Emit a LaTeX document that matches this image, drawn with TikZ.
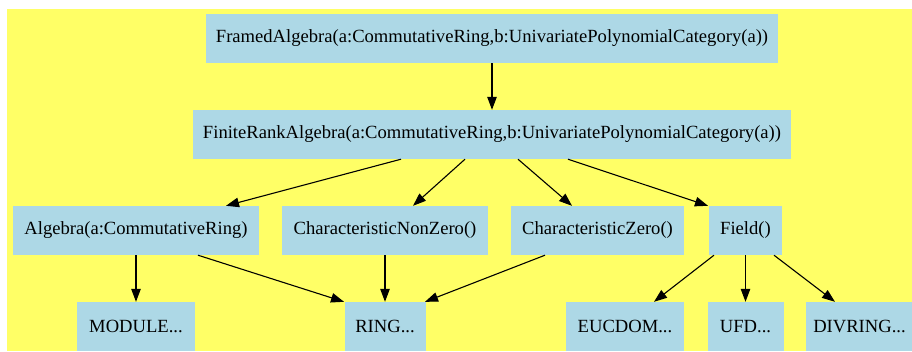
\documentclass[tikz,border=0pt]{standalone}
\usepackage{fontspec}
\setmainfont{Liberation Serif}
\usepackage{tikz}
\usetikzlibrary{arrows.meta}
\definecolor{graphbg}{HTML}{FFFF66}
\definecolor{catblue}{HTML}{ADD8E6}
\tikzset{
  % Category boxes
  catbox/.style={
    rectangle, fill=catblue, draw=none, text=black,
    minimum width=#1, minimum height=49pt, inner sep=0pt,
    font=\fontsize{18.6}{22}\selectfont, align=center,
  },
  catbox/.default={118pt},
  % Arrows
  catarrow/.style={-{Triangle[length=13pt, width=9.5pt]}, line width=1.1pt, black},
}

\begin{document}
\begin{tikzpicture}[x=1pt, y=-1pt]
  \useasboundingbox (0,0) rectangle (912,351);
  \fill[graphbg] (7,9) rectangle (912,351);

  % Top rows
  \node[catbox=572pt] (framed) at (492,38.5)
    {FramedAlgebra(a:CommutativeRing,b:UnivariatePolynomialCategory(a))};
  \node[catbox=598pt] (finite) at (492,134.5)
    {FiniteRankAlgebra(a:CommutativeRing,b:UnivariatePolynomialCategory(a))};

  % Middle row
  \node[catbox=246pt] (algebra) at (136,230.5) {Algebra(a:CommutativeRing)};
  \node[catbox=206pt] (cnonzero) at (385,230.5) {CharacteristicNonZero()};
  \node[catbox=173pt] (czero) at (597.5,230.5) {CharacteristicZero()};
  \node[catbox=73pt] (field) at (745.5,230.5) {Field()};

  % Bottom row
  \node[catbox=118pt] (module) at (136,326.5) {MODULE...};
  \node[catbox=81pt] (ring) at (385,326.5) {RING...};
  \node[catbox=118pt] (eucdom) at (625,326.5) {EUCDOM...};
  \node[catbox=76pt] (ufd) at (745.5,326.5) {UFD...};
  \node[catbox=107pt] (divring) at (859.5,326.5) {DIVRING...};

  % Arrows
  \draw[catarrow] (framed) -- (finite);
  \draw[catarrow] ([xshift=-91pt]finite.south) -- ([xshift=90pt]algebra.north);
  \draw[catarrow] ([xshift=-27pt]finite.south) -- ([xshift=28pt]cnonzero.north);
  \draw[catarrow] ([xshift=26pt]finite.south) -- ([xshift=-25.5pt]czero.north);
  \draw[catarrow] ([xshift=76pt]finite.south) -- ([xshift=-37.5pt]field.north);
  \draw[catarrow] (algebra) -- (module);
  \draw[catarrow] ([xshift=62pt]algebra.south) -- ([xshift=-41pt]ring.north);
  \draw[catarrow] (cnonzero) -- (ring);
  \draw[catarrow] ([xshift=-52.5pt]czero.south) -- ([xshift=40pt]ring.north);
  \draw[catarrow] ([xshift=-31.5pt]field.south) -- ([xshift=29pt]eucdom.north);
  \draw[catarrow] (field) -- (ufd);
  \draw[catarrow] ([xshift=28.5pt]field.south) -- ([xshift=-24.5pt]divring.north);
\end{tikzpicture}
\end{document}
